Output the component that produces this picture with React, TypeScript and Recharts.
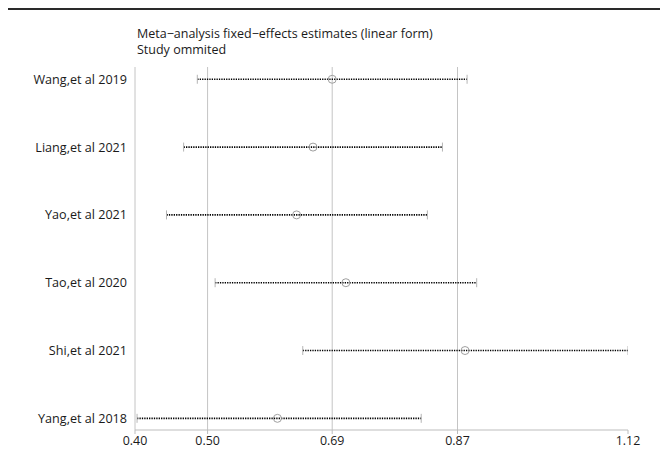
import React from "react";
import {
  ScatterChart,
  Scatter,
  XAxis,
  YAxis,
  ReferenceLine,
} from "recharts";

// Studies, top to bottom
const studies = [
  "Wang,et al 2019",
  "Liang,et al 2021",
  "Yao,et al 2021",
  "Tao,et al 2020",
  "Shi,et al 2021",
  "Yang,et al 2018",
];
// Pooled estimate with each study omitted, and its 95% CI bounds
const estimates = [0.688, 0.66, 0.636, 0.708, 0.882, 0.608];
const lowerCI = [0.491, 0.471, 0.446, 0.517, 0.645, 0.403];
const upperCI = [0.885, 0.849, 0.827, 0.899, 1.12, 0.818];

// Overall pooled estimate lines (lower CI, estimate, upper CI) and axis bounds
const axisMin = 0.4;
const axisMax = 1.12;
const pooledLines = [0.506, 0.688, 0.871];
const tickValues = [0.4, 0.506, 0.688, 0.871, 1.12];
const tickLabels = ["0.40", "0.50", "0.69", "0.87", "1.12"];

const FONT = "'Open Sans', sans-serif";
const TEXT = "#1a1a1a";
const rowY = (i: number) => studies.length - 1 - i;

const pointData = studies.map((s, i) => ({ x: estimates[i], y: rowY(i), name: s }));
const lowData = studies.map((s, i) => ({ x: lowerCI[i], y: rowY(i) }));
const highData = studies.map((s, i) => ({ x: upperCI[i], y: rowY(i) }));

const CapShape = (props: any) => {
  const { cx, cy } = props;
  if (cx == null || cy == null) return null;
  return <line x1={cx} x2={cx} y1={cy - 4.5} y2={cy + 4.5} stroke="#b5b5b5" strokeWidth={1} />;
};

const CircleShape = (props: any) => {
  const { cx, cy } = props;
  if (cx == null || cy == null) return null;
  return <circle cx={cx} cy={cy} r={4} fill="none" stroke="#a0a0a0" strokeWidth={1} />;
};

export default function App() {
  return (
    <div
      style={{
        position: "absolute",
        left: 0,
        top: 0,
        width: 660,
        height: 451,
        background: "#fff",
        fontFamily: FONT,
      }}
    >
      <div
        style={{
          position: "absolute",
          left: 8,
          top: 8,
          width: 652,
          height: 2,
          background: "#2a2a2a",
        }}
      />
      <div
        style={{
          position: "absolute",
          left: 137,
          top: 26,
          fontSize: 12.5,
          lineHeight: "16px",
          color: TEXT,
          whiteSpace: "nowrap",
        }}
      >
        <div>Meta−analysis fixed−effects estimates (linear form)</div>
        <div>Study ommited</div>
      </div>
      <div style={{ position: "absolute", left: 0, top: 0 }}>
        <ScatterChart
          width={660}
          height={451}
          margin={{ top: 67, right: 32, bottom: 0, left: 0 }}
        >
          <XAxis
            type="number"
            dataKey="x"
            domain={[axisMin, axisMax]}
            ticks={tickValues}
            tickFormatter={(v: number) => tickLabels[tickValues.indexOf(v)] ?? ""}
            height={21}
            tickSize={4}
            tickMargin={2}
            axisLine={{ stroke: "#bdbdbd" }}
            tickLine={{ stroke: "#bdbdbd" }}
            tick={{ fill: TEXT, fontSize: 12.4, fontFamily: FONT }}
            allowDataOverflow
          />
          <YAxis
            type="number"
            dataKey="y"
            domain={[-0.172, 5.181]}
            ticks={[0, 1, 2, 3, 4, 5]}
            tickFormatter={(v: number) => studies[studies.length - 1 - v] ?? ""}
            width={135}
            tickSize={0}
            tickMargin={8}
            axisLine={false}
            tickLine={false}
            tick={{ fill: TEXT, fontSize: 12.6, fontFamily: FONT }}
            allowDataOverflow
          />
          <ReferenceLine x={axisMin} stroke="#c4c4c4" strokeWidth={1} />
          {pooledLines.map((v) => (
            <ReferenceLine key={`p${v}`} x={v} stroke="#c4c4c4" strokeWidth={1} />
          ))}
          {studies.map((s, i) => (
            <ReferenceLine
              key={s}
              segment={[
                { x: lowerCI[i], y: rowY(i) },
                { x: upperCI[i], y: rowY(i) },
              ]}
              stroke="#000"
              strokeWidth={1.6}
              strokeDasharray="1.3 1.1"
              ifOverflow="visible"
            />
          ))}
          <Scatter data={lowData} shape={<CapShape />} isAnimationActive={false} />
          <Scatter data={highData} shape={<CapShape />} isAnimationActive={false} />
          <Scatter data={pointData} shape={<CircleShape />} isAnimationActive={false} />
        </ScatterChart>
      </div>
    </div>
  );
}
